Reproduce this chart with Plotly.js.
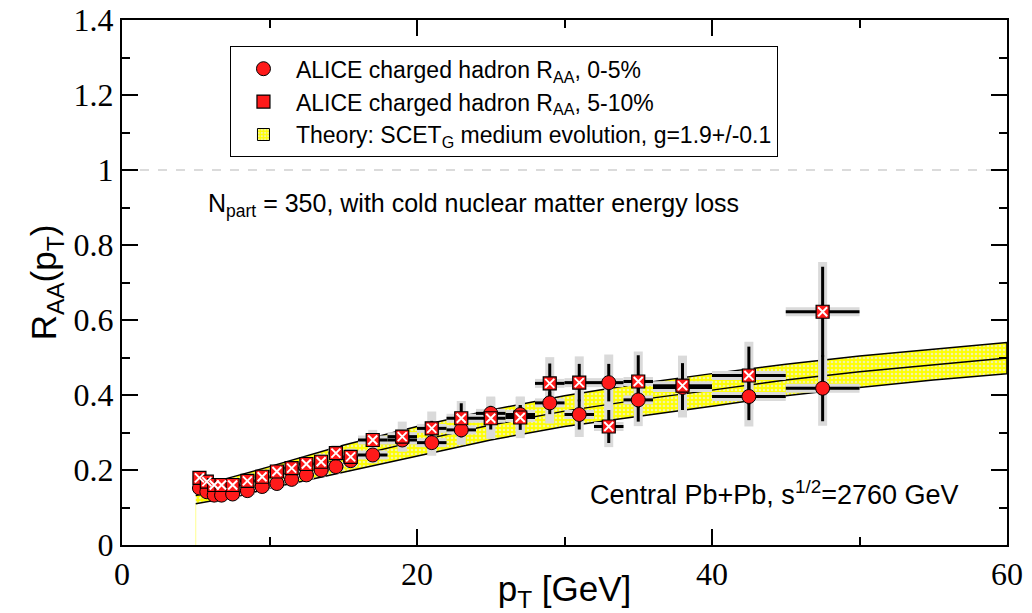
<!DOCTYPE html>
<html>
<head>
<meta charset="utf-8">
<script src="https://cdn.plot.ly/plotly-3.0.1.min.js"></script>
<style>html,body{margin:0;padding:0;background:#fff;}#plot{width:1032px;height:613px;}</style>
</head>
<body>
<div id="plot"></div>
<script>
// ALICE data: pT bin centres and half-widths
const pt    = [5.25,5.75,6.25,6.75,7.5,8.5,9.5,10.5,11.5,12.5,13.5,14.5,15.5,17,19,21,23,25,27,29,31,33,35,38,42.5,47.5];
const ptErr = [0.25,0.25,0.25,0.25,0.5,0.5,0.5,0.5,0.5,0.5,0.5,0.5,0.5,1,1,1,1,1,1,1,1,1,1,2,2.5,2.5];

// 0-5% central
const raa05     = [0.152,0.142,0.133,0.133,0.136,0.145,0.156,0.164,0.175,0.187,0.200,0.209,0.225,0.240,0.280,0.273,0.307,0.351,0.348,0.379,0.348,0.433,0.387,0.420,0.396,0.418];
const raa05Stat = [0.004,0.004,0.004,0.004,0.004,0.005,0.005,0.005,0.006,0.006,0.007,0.007,0.008,0.010,0.012,0.015,0.020,0.020,0.025,0.030,0.040,0.050,0.058,0.060,0.063,0.088];
const raa05Sys  = [0.012,0.012,0.012,0.012,0.013,0.013,0.014,0.015,0.016,0.017,0.018,0.019,0.020,0.022,0.030,0.035,0.040,0.045,0.048,0.055,0.060,0.075,0.070,0.080,0.080,0.100];

// 5-10% central
const raa510     = [0.179,0.169,0.160,0.160,0.160,0.171,0.182,0.196,0.205,0.216,0.222,0.245,0.235,0.280,0.289,0.311,0.338,0.338,0.340,0.431,0.433,0.316,0.436,0.425,0.452,0.622];
const raa510Stat = [0.004,0.004,0.004,0.004,0.004,0.005,0.005,0.005,0.006,0.006,0.007,0.007,0.008,0.010,0.012,0.020,0.040,0.030,0.033,0.053,0.050,0.044,0.070,0.060,0.077,0.120];
const raa510Sys  = [0.014,0.014,0.014,0.014,0.015,0.015,0.016,0.017,0.018,0.019,0.020,0.022,0.022,0.027,0.040,0.045,0.046,0.055,0.055,0.070,0.070,0.055,0.080,0.080,0.090,0.133];

// Theory band: SCET_G medium evolution, g = 1.9 +/- 0.1
const thX   = [5,6,7,8,10,12,15,20,25,30,35,40,45,50,55,60];
const thLo  = [0.110,0.117,0.124,0.131,0.152,0.168,0.194,0.238,0.280,0.316,0.344,0.370,0.398,0.420,0.440,0.457];
const thMid = [0.132,0.141,0.150,0.159,0.180,0.200,0.230,0.277,0.320,0.357,0.387,0.413,0.440,0.462,0.481,0.499];
const thHi  = [0.155,0.165,0.176,0.187,0.209,0.232,0.266,0.316,0.360,0.398,0.430,0.457,0.482,0.504,0.523,0.540];

const xTicks = [0,20,40,60];
const yTicks = [0,0.2,0.4,0.6,0.8,1,1.2,1.4];

const sans = '"Liberation Sans", Arial, Helvetica, sans-serif';
const serif = '"Liberation Serif", "Times New Roman", Times, serif';
const none = 'rgba(0,0,0,0)';

const bandX = thX.concat(thX.slice().reverse());
const bandY = thHi.concat(thLo.slice().reverse());
const bandPattern = {shape:'.', bgcolor:'#ffff00', fgcolor:'#f2f2a8', size:4, solidity:0.35};

const traces = [
  {x:[thX[0],thX[0]], y:[0,thLo[0]], mode:'lines', line:{color:'#ffff90',width:1}, showlegend:false, hoverinfo:'skip'},
  {x:bandX, y:bandY, mode:'lines', line:{color:'#000',width:1.5}, fill:'toself', fillcolor:'#ffff00',
   fillpattern:bandPattern, showlegend:false, hoverinfo:'skip'},
  {x:thX, y:thMid, mode:'lines', line:{color:'#000',width:1.5}, showlegend:false, hoverinfo:'skip'},
  // legend key for the theory band: a zero-height bar at the band's far end (draws nothing, gives a box key)
  {type:'bar', x:[thX[thX.length-1]], y:[0], width:[0.01], name:'Theory: SCET<sub>G</sub> medium evolution, g=1.9+/-0.1', legendrank:3,
   hoverinfo:'skip', cliponaxis:true, marker:{color:'#ffff00', line:{color:'#000', width:1}, pattern:bandPattern}},
  {x:pt, y:raa05, mode:'markers', marker:{size:1,color:none}, showlegend:false,
   error_y:{type:'data', array:raa05Sys, color:'#dadada', thickness:9, width:0},
   error_x:{type:'data', array:ptErr, color:'#dadada', thickness:9, width:0}},
  {x:pt, y:raa510, mode:'markers', marker:{size:1,color:none}, showlegend:false,
   error_y:{type:'data', array:raa510Sys, color:'#dadada', thickness:9, width:0},
   error_x:{type:'data', array:ptErr, color:'#dadada', thickness:9, width:0}},
  {x:pt, y:raa05, mode:'markers', marker:{size:1,color:none}, showlegend:false,
   error_y:{type:'data', array:raa05Stat, color:'#000', thickness:3, width:0},
   error_x:{type:'data', array:ptErr, color:'#000', thickness:3, width:0}},
  {x:pt, y:raa510, mode:'markers', marker:{size:1,color:none}, showlegend:false,
   error_y:{type:'data', array:raa510Stat, color:'#000', thickness:3, width:0},
   error_x:{type:'data', array:ptErr, color:'#000', thickness:3, width:0}},
  {x:pt, y:raa05, mode:'markers', name:'ALICE charged hadron R<sub>AA</sub>, 0-5%', legendrank:1,
   marker:{symbol:'circle', size:14, color:'#ff1a1a', line:{color:'#000',width:1}}},
  {x:pt, y:raa510, mode:'markers', name:'ALICE charged hadron R<sub>AA</sub>, 5-10%', legendrank:2,
   marker:{symbol:'square', size:13, color:'#ff1a1a', line:{color:'#000',width:1.2}}},
  {x:pt, y:raa510, mode:'markers', showlegend:false, hoverinfo:'skip',
   marker:{symbol:'x-thin-open', size:9, color:'#fff', line:{color:'#fff',width:2}}}
];

function axis(extra) {
  return Object.assign({
    showline:true, linecolor:'#000', linewidth:2, mirror:'ticks',
    ticks:'inside', ticklen:16, tickwidth:2, tickcolor:'#000',
    showgrid:false, zeroline:false,
    tickfont:{family:serif, size:32, color:'#000'}
  }, extra);
}

const layout = {
  width:1032, height:613,
  margin:{l:122, r:25, t:20, b:68},
  paper_bgcolor:'#fff', plot_bgcolor:'#fff',
  font:{family:serif, size:32, color:'#000'},
  showlegend:true,
  legend:{x:0.122, y:0.95, xanchor:'left', yanchor:'top', bgcolor:'#fff', traceorder:'normal',
          bordercolor:'#000', borderwidth:1, font:{family:sans, size:23, color:'#000'},
          tracegroupgap:0, itemwidth:55},
  xaxis:axis({
    range:[0,60], tickvals:xTicks, ticktext:xTicks.map(String),
    minor:{dtick:10, ticks:'inside', ticklen:8, tickwidth:2, tickcolor:'#000'},
    title:{text:'p<sub>T</sub> [GeV]', font:{family:sans, size:35, color:'#000'}, standoff:4}
  }),
  yaxis:axis({
    range:[0,1.4], tickvals:yTicks, ticktext:yTicks.map(String),
    minor:{dtick:0.1, ticks:'inside', ticklen:8, tickwidth:2, tickcolor:'#000'},
    title:{text:'R<sub>AA</sub>(p<sub>T</sub>)', font:{family:sans, size:35, color:'#000'}, standoff:6}
  }),
  shapes:[
    {type:'line', xref:'x', yref:'y', x0:0, x1:60, y0:1, y1:1,
     line:{color:'#d0d0d0', width:1.5, dash:'dash'}, layer:'below'}
  ],
  annotations:[
    {xref:'x', yref:'y', x:5.7, y:0.907, xanchor:'left', yanchor:'middle', showarrow:false,
     text:'N<sub>part</sub> = 350, with cold nuclear matter energy loss',
     font:{family:sans, size:25, color:'#000'}},
    {xref:'x', yref:'y', x:56.9, y:0.139, xanchor:'right', yanchor:'middle', showarrow:false,
     text:'Central Pb+Pb, s<sup>1/2</sup>=2760 GeV',
     font:{family:sans, size:27, color:'#000'}}
  ]
};

Plotly.newPlot('plot', traces, layout, {displayModeBar:false, staticPlot:true});
</script>
</body>
</html>
